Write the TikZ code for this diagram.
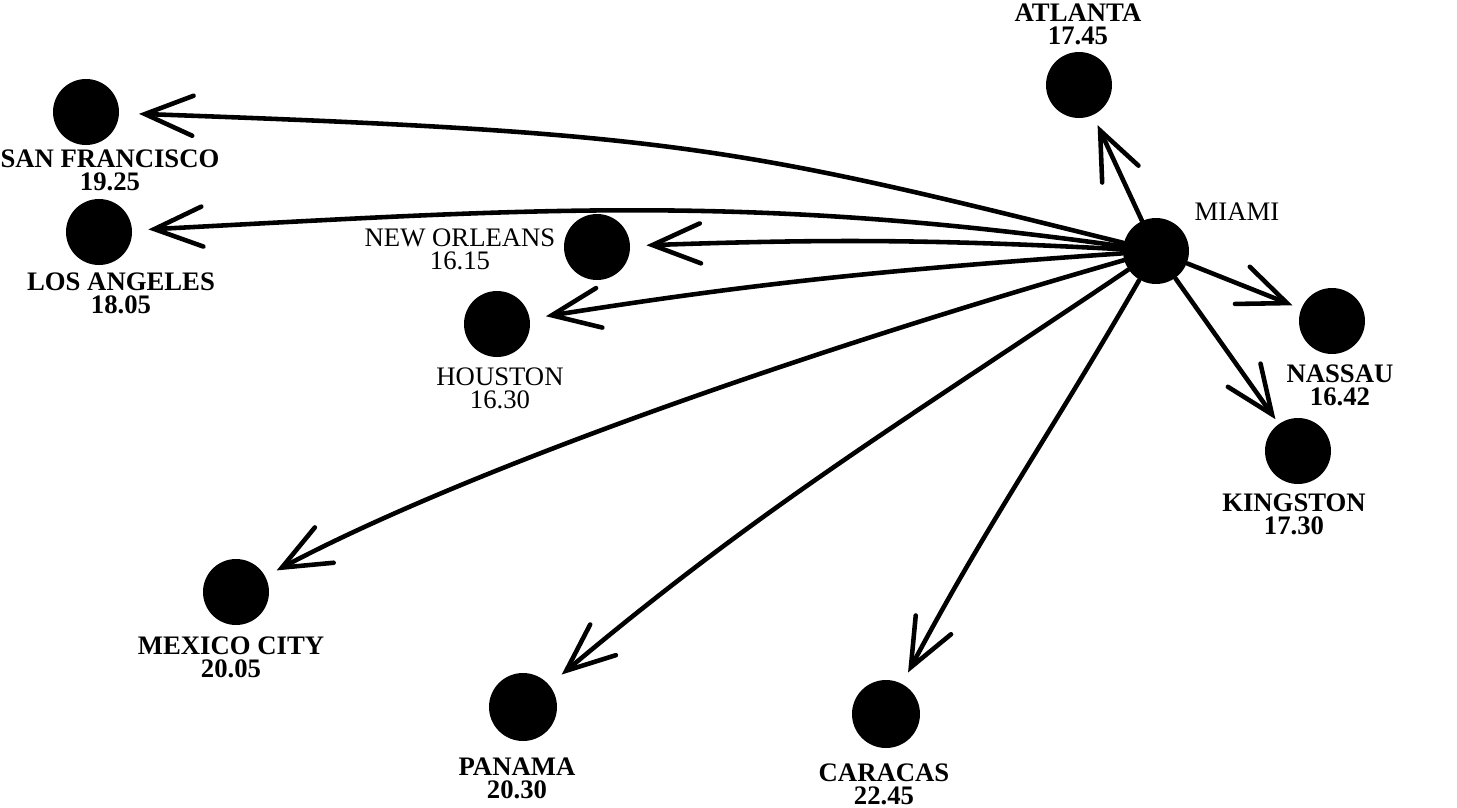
\documentclass[tikz,border=0pt]{standalone}
\usepackage{fontspec}
\setmainfont{Liberation Serif}
\usepackage{tikz}
\usetikzlibrary{arrows.meta}

\tikzset{
  city/.style={circle, fill=black, minimum size=6.6mm, inner sep=0pt},
  lbl/.style={font=\bfseries\fontsize{7.6}{6.6}\selectfont, align=center, inner sep=0pt},
  lbllight/.style={lbl, font=\fontsize{7.6}{6.6}\selectfont},
  flight/.style={line width=1.3pt, line cap=round, shorten >=4.5pt,
    -{Straight Barb[length=4.8mm,width=4mm,line cap=round]}}
}

\begin{document}
\begin{tikzpicture}
  \useasboundingbox (0,0) rectangle (14.57,-8.08);
  % cities
  \node[city] (miami) at (11.56,-2.51) {};
  \node[city] (atl) at (10.79,-0.85) {};
  \node[city] (sf) at (0.86,-1.12) {};
  \node[city] (la) at (0.99,-2.32) {};
  \node[city] (no) at (5.97,-2.47) {};
  \node[city] (hou) at (4.97,-3.24) {};
  \node[city] (nas) at (13.32,-3.21) {};
  \node[city] (kin) at (12.98,-4.51) {};
  \node[city] (mex) at (2.36,-5.92) {};
  \node[city, minimum size=6.8mm] (pan) at (5.23,-7.07) {};
  \node[city, minimum size=6.8mm] (car) at (8.86,-7.14) {};
  % labels
  \node[lbllight] (miami-l) at (12.37,-2.12) {MIAMI};
  \node[lbl] (atl-l) at (10.78,-0.24) {ATLANTA\\17.45};
  \node[lbl] (sf-l) at (1.10,-1.70) {SAN FRANCISCO\\19.25};
  \node[lbl] (la-l) at (1.21,-2.93) {LOS ANGELES\\18.05};
  \node[lbllight] (no-l) at (4.60,-2.49) {NEW ORLEANS\\16.15};
  \node[lbllight] (hou-l) at (5.00,-3.88) {HOUSTON\\16.30};
  \node[lbl] (nas-l) at (13.40,-3.85) {NASSAU\\16.42};
  \node[lbl] (kin-l) at (12.94,-5.14) {KINGSTON\\17.30};
  \node[lbl] (mex-l) at (2.31,-6.57) {MEXICO CITY\\20.05};
  \node[lbl] (pan-l) at (5.17,-7.78) {PANAMA\\20.30};
  \node[lbl] (car-l) at (8.84,-7.84) {CARACAS\\22.45};
  % routes
  \draw[flight, shorten >=5.5pt] (miami) to[out=166, in=-2, in looseness=1.4] (sf);
  \draw[flight] (miami) to[out=172, in=3] (la);
  \draw[flight] (miami) to[out=177, in=2] (no);
  \draw[flight] (miami) to[out=184, in=9] (hou);
  \draw[flight, shorten >=3.5pt] (miami) to[out=196, in=28, in looseness=0.6] (mex);
  \draw[flight] (miami) to[out=214, in=40] (pan);
  \draw[flight, shorten >=3.5pt] (miami) to[out=240, in=62] (car);
  \draw[flight, shorten >=3pt] (miami) -- (atl);
  \draw[flight, shorten >=2.5pt] (miami) -- (nas);
  \draw[flight, shorten >=1.5pt] (miami) -- (kin);
\end{tikzpicture}
\end{document}
